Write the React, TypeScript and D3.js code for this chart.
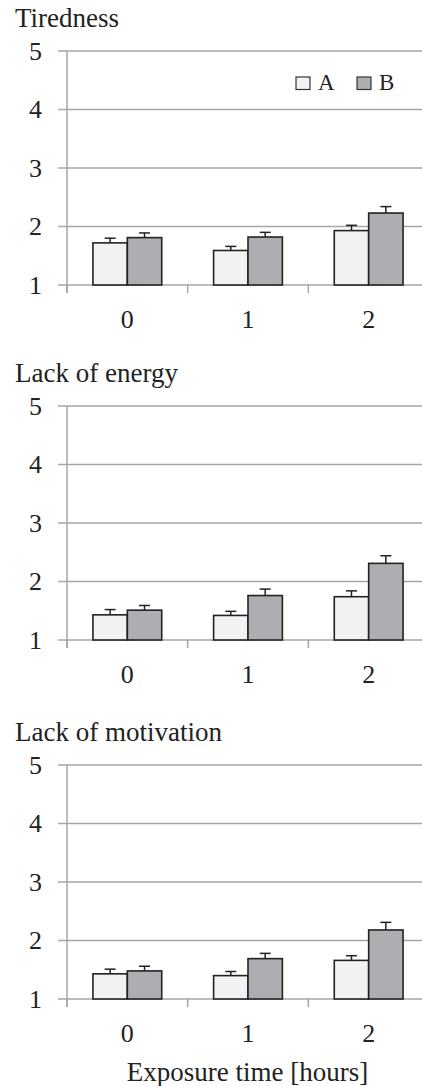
import React, { useEffect, useRef } from 'react';
import * as d3 from 'd3';

const categories = ['0', '1', '2'];
const seriesNames = ['A', 'B'];
const yTicks = [1, 2, 3, 4, 5];

const panelTitles = ['Tiredness', 'Lack of energy', 'Lack of motivation'];

const tiredA = [1.72, 1.59, 1.93];
const tiredAErr = [0.08, 0.07, 0.09];
const tiredB = [1.81, 1.82, 2.23];
const tiredBErr = [0.08, 0.08, 0.11];

const energyA = [1.43, 1.42, 1.74];
const energyAErr = [0.09, 0.07, 0.1];
const energyB = [1.51, 1.76, 2.31];
const energyBErr = [0.08, 0.11, 0.13];

const motivA = [1.43, 1.4, 1.66];
const motivAErr = [0.08, 0.07, 0.08];
const motivB = [1.48, 1.69, 2.18];
const motivBErr = [0.08, 0.09, 0.13];

const panelTops = [51, 406, 765];

const W = 422;
const H = 1086;
const plotH = 234;
const axisX = 67;
const fills = ['#f1f2f4', '#adaeb1'];
const gridColor = '#a6a6a6';
const barStroke = '#222';
const FONT = 'Liberation Serif, Tinos, Times New Roman, serif';

const App: React.FC = () => {
  const svgRef = useRef<SVGSVGElement>(null);

  useEffect(() => {
    if (!svgRef.current) return;
    const svg = d3.select(svgRef.current);
    svg.selectAll('*').remove();

    const panels = [
      { title: panelTitles[0], values: [tiredA, tiredB], errors: [tiredAErr, tiredBErr], top: panelTops[0] },
      { title: panelTitles[1], values: [energyA, energyB], errors: [energyAErr, energyBErr], top: panelTops[1] },
      { title: panelTitles[2], values: [motivA, motivB], errors: [motivAErr, motivBErr], top: panelTops[2] },
    ];

    svg.append('rect').attr('width', W).attr('height', H).attr('fill', '#fff');

    const x0 = d3.scaleBand<string>()
      .domain(categories)
      .range([axisX, axisX + 362])
      .paddingInner(0.43)
      .paddingOuter(0.215);
    const x1 = d3.scaleBand<string>()
      .domain(seriesNames)
      .range([0, x0.bandwidth()]);
    const step = x0.step();

    const addText = (x: number, y: number, s: string, size: number, anchor = 'start') =>
      svg.append('text')
        .attr('x', x)
        .attr('y', y)
        .attr('text-anchor', anchor)
        .attr('fill', '#222')
        .style('font-family', FONT)
        .style('font-size', `${size}px`)
        .text(s);

    panels.forEach((p, pi) => {
      const y = d3.scaleLinear().domain([1, 5]).range([p.top + plotH, p.top]);
      const base = y(1);

      addText(15, p.top - 24, p.title, 27);

      // gridlines + y labels
      yTicks.forEach(t => {
        svg.append('line')
          .attr('x1', 58).attr('x2', W)
          .attr('y1', y(t)).attr('y2', y(t))
          .attr('stroke', gridColor).attr('stroke-width', 1.5);
        addText(42, y(t) + 8.6, String(t), 26, 'end');
      });

      svg.append('line')
        .attr('x1', axisX).attr('x2', axisX)
        .attr('y1', p.top).attr('y2', base + 8)
        .attr('stroke', gridColor).attr('stroke-width', 1.5);

      d3.range(categories.length + 1).forEach(i => {
        svg.append('line')
          .attr('x1', axisX + i * step).attr('x2', axisX + i * step)
          .attr('y1', base).attr('y2', base + 8)
          .attr('stroke', gridColor).attr('stroke-width', 1.5);
      });

      categories.forEach(c => {
        addText((x0(c) as number) + x0.bandwidth() / 2, base + 43, c, 26, 'middle');
      });

      // bars with error bars
      categories.forEach((c, ci) => {
        seriesNames.forEach((s, si) => {
          const v = p.values[si][ci];
          const e = p.errors[si][ci];
          const bx = (x0(c) as number) + (x1(s) as number);
          const bw = x1.bandwidth();
          const cx = bx + bw / 2;
          svg.append('line')
            .attr('x1', cx).attr('x2', cx)
            .attr('y1', y(v)).attr('y2', y(v + e))
            .attr('stroke', barStroke).attr('stroke-width', 1.5);
          svg.append('line')
            .attr('x1', cx - 5.5).attr('x2', cx + 5.5)
            .attr('y1', y(v + e)).attr('y2', y(v + e))
            .attr('stroke', barStroke).attr('stroke-width', 1.5);
          svg.append('rect')
            .attr('x', bx).attr('y', y(v))
            .attr('width', bw).attr('height', base - y(v))
            .attr('fill', fills[si])
            .attr('stroke', barStroke).attr('stroke-width', 1.6);
        });
      });

      if (pi === 0) {
        seriesNames.forEach((s, i) => {
          svg.append('rect')
            .attr('x', 296 + i * 61).attr('y', 77)
            .attr('width', 14).attr('height', 12.5)
            .attr('fill', fills[i])
            .attr('stroke', '#333').attr('stroke-width', 1.2);
          addText(318 + i * 61, 90, s, 23);
        });
      }

      if (pi === panels.length - 1) {
        addText(247.5, base + 82, 'Exposure time [hours]', 27, 'middle');
      }
    });
  }, []);

  return (
    <div style={{ position: 'absolute', left: 0, top: 0 }}>
      <svg ref={svgRef} width={W} height={H} style={{ display: 'block' }}></svg>
    </div>
  );
};

export default App;
